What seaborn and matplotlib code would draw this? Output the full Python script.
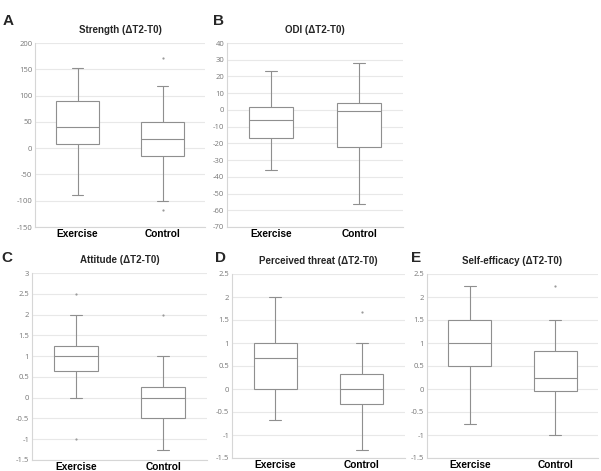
import matplotlib
matplotlib.use("Agg")
import matplotlib.pyplot as plt
import numpy as np
import pandas as pd
import seaborn as sns

# ------------------------------------------------------------------
# Data: five-number summaries (whisker low, Q1, median, Q3, whisker high)
# plus the separately plotted outliers
# ------------------------------------------------------------------
groups = ["Exercise", "Control"]

strength_ex = [-90, 8, 41, 89, 152]
strength_ct = [-101, -15, 18, 50, 118]
strength_out_ex = []
strength_out_ct = [171, -118]

odi_ex = [-36, -17, -6, 2, 23]
odi_ct = [-56, -22, -0.5, 4, 28]
odi_out_ex = []
odi_out_ct = []

attitude_ex = [0, 0.63, 1.0, 1.25, 2.0]
attitude_ct = [-1.25, -0.5, 0, 0.25, 1.0]
attitude_out_ex = [2.5, -1.0]
attitude_out_ct = [2.0]

threat_ex = [-0.67, 0, 0.67, 1.0, 2.0]
threat_ct = [-1.33, -0.33, 0, 0.33, 1.0]
threat_out_ex = []
threat_out_ct = [1.67]

efficacy_ex = [-0.75, 0.5, 1.0, 1.5, 2.25]
efficacy_ct = [-1.0, -0.05, 0.25, 0.82, 1.5]
efficacy_out_ex = []
efficacy_out_ct = [2.25]

titles = ["Strength (\u0394T2-T0)", "ODI (\u0394T2-T0)", "Attitude (\u0394T2-T0)",
          "Perceived threat (\u0394T2-T0)", "Self-efficacy (\u0394T2-T0)"]
letters = ["A", "B", "C", "D", "E"]
y_ranges = [(-150, 200, 50), (-70, 40, 10), (-1.5, 3, 0.5), (-1.5, 2.5, 0.5), (-1.5, 2.5, 0.5)]

panels = [
    (strength_ex, strength_ct, strength_out_ex, strength_out_ct),
    (odi_ex, odi_ct, odi_out_ex, odi_out_ct),
    (attitude_ex, attitude_ct, attitude_out_ex, attitude_out_ct),
    (threat_ex, threat_ct, threat_out_ex, threat_out_ct),
    (efficacy_ex, efficacy_ct, efficacy_out_ex, efficacy_out_ct),
]

# axes rectangles in pixels (left, top, width, height)
W, H = 601, 471
boxes_px = [(35, 43, 170, 184), (227, 43, 176, 184),
            (32, 273, 175, 187), (232, 274, 173, 184), (427, 274, 171, 184)]
letter_px = [(8, 21), (218, 21), (7, 258), (220, 258), (416, 258)]

sns.set_theme(style="whitegrid")
plt.rcParams["font.family"] = ["Open Sans", "DejaVu Sans"]
plt.rcParams["axes.unicode_minus"] = False

fig = plt.figure(figsize=(W / 100, H / 100), dpi=100)
fig.patch.set_facecolor("white")

edge = "#8f8f8f"
cap_half = 0.07   # half-width of whisker caps, in category units

for i, (ex, ct, out_ex, out_ct) in enumerate(panels):
    l, t, w, h = boxes_px[i]
    ax = fig.add_axes([l / W, 1 - (t + h) / H, w / W, h / H])

    df = pd.DataFrame({"group": [groups[0]] * len(ex) + [groups[1]] * len(ct),
                       "value": ex + ct})
    sns.boxplot(data=df, x="group", y="value", order=groups, ax=ax,
                whis=(0, 100), width=0.5, color="white", linecolor=edge,
                linewidth=0.8, fliersize=0)

    # narrower caps, like the original
    for ln in ax.lines:
        xd = np.asarray(ln.get_xdata(), dtype=float)
        yd = np.asarray(ln.get_ydata(), dtype=float)
        if len(xd) == 2 and yd[0] == yd[1] and 0 < abs(xd[1] - xd[0]) < 0.45:
            c = xd.mean()
            ln.set_xdata([c - cap_half, c + cap_half])

    out = pd.DataFrame({"group": [groups[0]] * len(out_ex) + [groups[1]] * len(out_ct),
                        "value": out_ex + out_ct})
    if len(out):
        sns.stripplot(data=out, x="group", y="value", order=groups, ax=ax,
                      jitter=False, size=1.6, color="#9a9a9a", linewidth=0)

    lo, hi, step = y_ranges[i]
    n = int(round((hi - lo) / step))
    ticks = [lo + k * step for k in range(n + 1)]
    ax.set_ylim(lo, hi)
    ax.set_yticks(ticks)
    ax.set_yticklabels([f"{v:g}" for v in ticks], fontsize=5.5, color="#777777")
    ax.set_xlim(-0.5, 1.5)
    ax.set_xlabel("")
    ax.set_ylabel("")
    ax.tick_params(axis="y", length=0, pad=2)
    ax.tick_params(axis="x", length=0, pad=1.5)
    for lab in ax.get_xticklabels():
        lab.set_fontsize(7.3)
        lab.set_fontweight("bold")
        lab.set_family(["Liberation Sans", "DejaVu Sans"])
        lab.set_color("black")

    ax.grid(axis="y", color="#e8e8e8", linewidth=0.8)
    ax.grid(axis="x", visible=False)
    ax.set_facecolor("white")
    for side in ["top", "right"]:
        ax.spines[side].set_visible(False)
    for side in ["left", "bottom"]:
        ax.spines[side].set_color("#d6d6d6")
        ax.spines[side].set_linewidth(0.8)

    ax.set_title(titles[i], fontsize=7, fontweight="bold", pad=7,
                 family=["Liberation Sans", "DejaVu Sans"])

    lx, ly = letter_px[i]
    fig.text(lx / W, 1 - ly / H, letters[i], fontsize=11, fontweight="bold",
             ha="center", va="center", family=["Liberation Sans", "DejaVu Sans"])

plt.savefig("out.png", dpi=100, facecolor="white")
